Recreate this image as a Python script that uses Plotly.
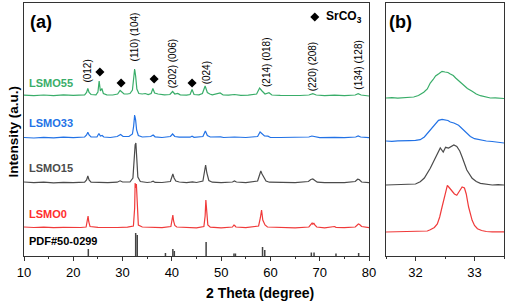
import plotly.graph_objects as go

# ---------------- data ----------------
samples = ["LSMO0", "LSMO15", "LSMO33", "LSMO55"]
colors = ["#f03a3a", "#4b4b4b", "#2272e6", "#39ad69"]
offsets_a = [28, 73, 118, 160]
offsets_b = [24, 71, 115, 158]

lsmo0_x = [10, 12, 14, 16, 18, 20, 21.5, 22.6, 22.85, 23.0, 23.15, 23.4, 25, 27, 29, 31, 32.2, 32.45, 32.55, 32.68, 32.8, 32.95, 33.2, 34, 36, 38, 39.8, 40.05, 40.2, 40.35, 40.6, 41, 43, 45, 46.5, 46.75, 46.9, 47.05, 47.3, 47.8, 50, 52.3, 52.6, 52.75, 53.0, 55, 57.6, 57.95, 58.2, 58.45, 58.7, 58.9, 59.4, 62, 65, 67.8, 68.2, 68.45, 68.6, 68.8, 69.0, 69.4, 71, 72.7, 73.0, 73.3, 75, 77.2, 77.6, 77.85, 78.1, 78.5, 80]
lsmo0_y = [1, 0.5, 0.8, 0.3, 0.6, 0.2, 0.5, 1, 6, 12, 6, 1.5, 0.6, 0.3, 0.5, 0.8, 2, 20, 45, 40, 44, 20, 3, 1, 0.5, 0.3, 1.5, 8, 13, 7, 2.5, 1, 0.3, 0.2, 1.5, 12, 28, 14, 3, 0.8, 0.2, 1, 3, 2.5, 1, 0.3, 2, 10, 18, 8, 5, 3, 1, 0.3, 0.2, 1, 4, 5, 3.5, 5, 3, 1, 0.2, 0.8, 1.5, 0.7, 0.3, 1, 3, 4, 3.5, 1.5, 0.3]

lsmo15_x = [10, 12, 14, 16, 18, 20, 22.3, 22.7, 22.95, 23.2, 23.6, 25, 27, 28.9, 29.5, 30, 31.5, 32.1, 32.35, 32.55, 32.7, 32.85, 33.1, 33.6, 35, 35.8, 36.2, 36.6, 38, 39.7, 40.0, 40.2, 40.45, 40.8, 41.5, 43, 44.2, 45, 46.3, 46.65, 46.85, 47.1, 47.5, 48.2, 50, 52.3, 52.7, 53.1, 55, 57.4, 57.8, 58.05, 58.3, 58.7, 59.1, 59.8, 62, 65, 67.7, 68.2, 68.6, 69.0, 69.5, 71, 72.8, 73.3, 75, 77.2, 77.7, 78.0, 78.5, 80]
lsmo15_y = [1, 0.4, 0.8, 0.2, 0.6, 0.3, 0.8, 3, 7, 3, 0.8, 0.5, 0.3, 0.8, 2.2, 1, 1, 5, 25, 38, 40, 25, 6, 1.5, 0.5, 1, 1.8, 0.6, 0.5, 1.5, 6, 9, 5, 2, 1, 0.3, 1.2, 0.5, 2, 10, 18, 10, 2.5, 0.8, 0.3, 1, 2, 1, 0.3, 2, 8, 12, 9, 5, 2, 0.8, 0.5, 0.3, 1.5, 3.5, 4, 2.5, 0.8, 0.3, 1, 0.5, 0.3, 1.5, 3.8, 3.5, 1, 0.3]

lsmo33_x = [10, 12, 14, 16, 18, 20, 22.3, 22.7, 22.95, 23.2, 23.6, 24.8, 25.2, 25.5, 25.85, 26.2, 27.5, 28.9, 29.6, 30.1, 31.3, 32.0, 32.25, 32.45, 32.65, 32.85, 33.2, 34, 35.7, 36.2, 36.6, 38, 39.7, 40.15, 40.6, 41.5, 43.7, 44.1, 44.5, 46.3, 46.8, 47.2, 47.8, 49.9, 50.5, 52.7, 55, 57.4, 57.9, 58.3, 58.8, 59.5, 60, 62, 65, 67.8, 68.4, 69, 70, 73, 75, 77.3, 77.8, 78.3, 80]
lsmo33_y = [0.5, 0, 0.6, 0.2, 0.8, 0.4, 1, 3, 5.7, 3, 1, 1, 4.5, 2, 2.5, 1, 0.5, 1.5, 3.5, 1.5, 1.5, 4, 12, 23, 18, 8, 2.5, 1, 1.5, 3, 1.2, 0.5, 1.5, 4, 1.5, 0.8, 0.8, 1.8, 0.7, 1.5, 7, 2.5, 1, 1.2, 0.5, 1, 0.5, 1.5, 6, 4, 2, 1.8, 0.5, 0.5, 0.5, 1, 2, 1.2, 0.3, 0.6, 0.4, 1, 2, 1, 0.3]

lsmo55_x = [10, 12, 14, 16, 18, 20, 22.3, 22.7, 22.95, 23.2, 23.6, 24.6, 25.0, 25.25, 25.5, 25.8, 26.1, 26.8, 28, 29.0, 29.5, 29.8, 30.3, 31.0, 31.5, 32.0, 32.25, 32.45, 32.65, 32.9, 33.3, 34, 34.6, 35.2, 35.8, 36.15, 36.5, 37.2, 38.5, 39.6, 40.15, 40.6, 41.2, 41.7, 43, 43.7, 44.1, 44.5, 45.5, 46.2, 46.75, 47.2, 47.7, 48.2, 49.8, 50.4, 51.5, 52.7, 54, 55.5, 57.2, 57.8, 58.3, 58.9, 59.7, 60.3, 62, 64, 66, 67.8, 68.6, 69.3, 71, 73, 75, 77.2, 77.8, 78.4, 80]
lsmo55_y = [0.8, 0.4, 1, 0.4, 1.2, 0.6, 1.2, 3.5, 7.5, 3.5, 1.5, 1.2, 4, 15, 5, 7.5, 2.5, 1.2, 1, 2, 5.5, 4, 2, 2, 2.5, 6, 16, 27, 20, 7, 2.5, 2, 2.5, 1.5, 2.5, 7.5, 3, 2, 1.2, 1.5, 4.5, 2, 2.5, 1.2, 0.8, 1.5, 6.5, 1.5, 1.2, 2.5, 10, 3.5, 2, 1.2, 3, 1, 0.8, 1.5, 0.6, 0.8, 2, 8, 5, 2, 3.3, 1, 0.6, 0.4, 0.5, 1, 2.3, 1, 0.3, 0.8, 0.3, 1, 2.3, 1, 0]

# PDF#50-0299 reference sticks
pdf_pos = [23.05, 32.66, 32.98, 38.7, 40.2, 40.5, 46.95, 52.6, 52.9, 58.4, 58.85, 68.3, 68.85, 73.3, 77.9]
pdf_int = [7, 23, 21, 3, 7, 5, 14, 2.5, 2.5, 9, 6, 3.5, 3.5, 2.5, 3]

# panel (b): zoom on the (110)/(104) region
b0_x = [31.5, 31.6, 31.7, 31.8, 31.9, 32.0, 32.1, 32.2, 32.25, 32.32, 32.37, 32.41, 32.45, 32.48, 32.51, 32.54, 32.57, 32.61, 32.66, 32.7, 32.74, 32.79, 32.83, 32.86, 32.9, 32.93, 32.96, 33.0, 33.05, 33.12, 33.2, 33.3, 33.4, 33.5]
b0_y = [0, 0.2, 0, 0.3, 0.1, 0.4, 0.6, 1, 2.3, 4.5, 8, 15, 25, 33, 41.7, 46.7, 44.5, 42, 38, 36.7, 40, 45, 44, 38, 25, 17, 11.7, 6.5, 3.3, 1.5, 0.5, 0.2, 0, 0.2]
b15_x = [31.5, 31.6, 31.7, 31.8, 31.9, 32.0, 32.08, 32.15, 32.25, 32.31, 32.37, 32.42, 32.47, 32.51, 32.56, 32.6, 32.65, 32.7, 32.75, 32.79, 32.87, 32.96, 33.03, 33.1, 33.2, 33.3, 33.4, 33.5]
b15_y = [0, 0.2, -0.2, 0.3, 0.5, 1, 3.3, 7, 16.7, 24, 31.7, 37, 33, 37.7, 37, 38, 40, 38.5, 34, 28, 15, 6.7, 3.5, 1.7, 0.5, 0, 0.3, 0]
b33_x = [31.5, 31.6, 31.7, 31.8, 31.9, 32.0, 32.08, 32.15, 32.25, 32.32, 32.39, 32.45, 32.5, 32.55, 32.59, 32.65, 32.73, 32.8, 32.87, 32.93, 33.0, 33.1, 33.2, 33.3, 33.4, 33.5]
b33_y = [0, -0.3, 0.2, 0, 0.4, 0.6, 1.3, 4, 10.7, 16, 20.7, 21.7, 21, 20.5, 19, 18, 15.7, 11.5, 7.3, 4.5, 2.3, 0.8, 0, -0.5, -1.5, -2]
b55_x = [31.5, 31.6, 31.7, 31.8, 31.9, 31.97, 32.05, 32.14, 32.2, 32.25, 32.3, 32.34, 32.4, 32.45, 32.5, 32.55, 32.59, 32.64, 32.68, 32.75, 32.81, 32.88, 32.96, 33.03, 33.1, 33.2, 33.27, 33.35, 33.42, 33.5]
b55_y = [0, 0.3, -0.2, 0.2, 0.5, 1, 2.5, 5.7, 9, 15, 18.5, 22, 24.5, 26.7, 26, 25.5, 24, 22.5, 20, 16.5, 13, 9.5, 6.7, 4, 2.3, 1, 0, 0.2, -0.3, -0.5]

peak_labels = ["(012)", "(110) (104)", "(202) (006)", "(024)", "(214) (018)", "(220) (208)", "(134) (128)"]
peak_label_x = [22.8, 32.5, 40.2, 47.1, 59.1, 68.6, 77.8]
peak_label_y = [184.5, 219.5, 192.5, 183.5, 194, 189.5, 190.5]

srco3_x = [25.4, 29.7, 36.4, 44.1]
srco3_y = [184, 173, 177, 173]

a_ticks = [10, 20, 30, 40, 50, 60, 70, 80]
b_ticks = [32, 33]

# ---------------- figure ----------------
FONT = "Liberation Sans, Arial, sans-serif"
fig = go.Figure()

series_a = [(lsmo0_x, lsmo0_y), (lsmo15_x, lsmo15_y), (lsmo33_x, lsmo33_y), (lsmo55_x, lsmo55_y)]
series_b = [(b0_x, b0_y), (b15_x, b15_y), (b33_x, b33_y), (b55_x, b55_y)]

for (xs, ys), off, col, name in zip(series_a, offsets_a, colors, samples):
    fig.add_trace(go.Scatter(x=xs, y=[v + off for v in ys], mode="lines",
                             line=dict(color=col, width=1.2), name=name,
                             xaxis="x", yaxis="y", showlegend=False))
for (xs, ys), off, col, name in zip(series_b, offsets_b, colors, samples):
    fig.add_trace(go.Scatter(x=xs, y=[v + off for v in ys], mode="lines",
                             line=dict(color=col, width=1.2), name=name,
                             xaxis="x2", yaxis="y2", showlegend=False))

# reference sticks
sx, sy = [], []
for p, h in zip(pdf_pos, pdf_int):
    sx += [p, p, None]
    sy += [0, h, None]
fig.add_trace(go.Scatter(x=sx, y=sy, mode="lines", line=dict(color="#444444", width=1.5),
                         xaxis="x", yaxis="y", showlegend=False))

# SrCO3 diamonds
fig.add_trace(go.Scatter(x=srco3_x, y=srco3_y, mode="markers",
                         marker=dict(symbol="diamond", size=7, color="black"),
                         xaxis="x", yaxis="y", showlegend=False))
fig.add_trace(go.Scatter(x=[69.0], y=[239], mode="markers",
                         marker=dict(symbol="diamond", size=7, color="black"),
                         xaxis="x", yaxis="y", showlegend=False))

ann = []
for t, x, y in zip(peak_labels, peak_label_x, peak_label_y):
    ann.append(dict(x=x, y=y, xref="x", yref="y", text=t, textangle=-90, showarrow=False,
                    xanchor="center", yanchor="middle", font=dict(size=10, color="black", family=FONT)))

label_y = [42, 87.7, 132.7, 173.3]
for name, col, y in zip(samples, colors, label_y):
    c = "#ff2d2d" if name == "LSMO0" else col
    ann.append(dict(x=10.6, y=y, xref="x", yref="y", text="<b>%s</b>" % name, showarrow=False,
                    xanchor="left", yanchor="middle", font=dict(size=11, color=c, family=FONT)))
ann.append(dict(x=10.6, y=15.3, xref="x", yref="y", text="<b>PDF#50-0299</b>", showarrow=False,
                xanchor="left", yanchor="middle", font=dict(size=11, color="black", family=FONT)))
ann.append(dict(x=70.8, y=239, xref="x", yref="y", text="<b>SrCO<sub>3</sub></b>", showarrow=False,
                xanchor="left", yanchor="middle", font=dict(size=12, color="black", family=FONT)))
ann.append(dict(x=10.8, y=234, xref="x", yref="y", text="<b>(a)</b>", showarrow=False,
                xanchor="left", yanchor="middle", font=dict(size=18, color="black", family=FONT)))
ann.append(dict(x=31.52, y=234, xref="x2", yref="y2", text="<b>(b)</b>", showarrow=False,
                xanchor="left", yanchor="middle", font=dict(size=18, color="black", family=FONT)))
ann.append(dict(x=260 / 507, y=1 - 293 / 305, xref="paper", yref="paper", text="<b>2 Theta (degree)</b>",
                showarrow=False, xanchor="center", yanchor="middle",
                font=dict(size=14, color="black", family=FONT)))
ann.append(dict(x=13 / 507, y=1 - 131.5 / 305, xref="paper", yref="paper", text="<b>Intensity (a.u.)</b>",
                textangle=-90, showarrow=False, xanchor="center", yanchor="middle",
                font=dict(size=13.5, color="black", family=FONT)))

ydom = [1 - 256 / 305, 1 - 3 / 305]
axis_common = dict(showline=True, linecolor="#333333", linewidth=1, mirror=True,
                   showgrid=False, zeroline=False)
fig.update_layout(
    width=507, height=305, margin=dict(l=0, r=0, t=0, b=0),
    paper_bgcolor="white", plot_bgcolor="white",
    font=dict(family=FONT, color="black"),
    xaxis=dict(domain=[24 / 507, 369 / 507], range=[10, 80], tickvals=a_ticks,
               ticks="outside", ticklen=4, tickwidth=1, tickcolor="#333333",
               minor=dict(dtick=5, ticks="outside", ticklen=2, tickcolor="#333333"),
               tickfont=dict(size=13, color="black"), automargin=False, **axis_common),
    yaxis=dict(domain=ydom, range=[0, 253], showticklabels=False, ticks="",
               automargin=False, **axis_common),
    xaxis2=dict(domain=[386 / 507, 504 / 507], range=[31.5, 33.5], tickvals=b_ticks,
                ticks="outside", ticklen=4, tickwidth=1, tickcolor="#333333",
                minor=dict(dtick=0.5, ticks="outside", ticklen=2, tickcolor="#333333"),
                tickfont=dict(size=13, color="black"), anchor="y2", automargin=False, **axis_common),
    yaxis2=dict(domain=ydom, range=[0, 253], showticklabels=False, ticks="", anchor="x2",
                automargin=False, **axis_common),
    annotations=ann,
)

fig.write_html("out.html", config={"displayModeBar": False},
               post_script="document.body.style.margin='0';document.body.style.overflow='hidden';")
